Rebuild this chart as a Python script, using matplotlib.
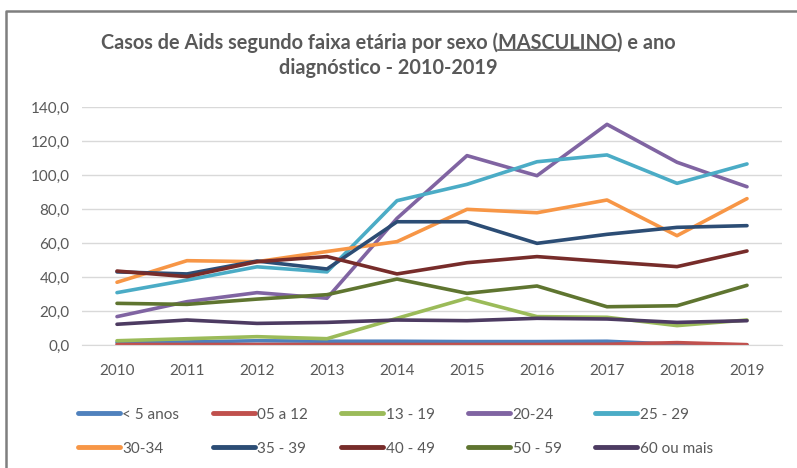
import matplotlib
matplotlib.use('Agg')
import matplotlib.pyplot as plt
from matplotlib.lines import Line2D

# Data
anos = ['2010', '2011', '2012', '2013', '2014', '2015', '2016', '2017', '2018', '2019']
faixas = ['< 5 anos', '05 a 12', '13 - 19', '20-24', '25 - 29',
          '30-34', '35 - 39', '40 - 49', '50 - 59', '60 ou mais']

menor5 = [1.5, 1.8, 2.5, 2.2, 2.2, 2.0, 2.0, 2.2, 0.4, 0.0]
de05a12 = [0.3, 0.3, 0.3, 0.3, 0.3, 0.3, 0.3, 0.4, 1.4, 0.2]
de13a19 = [2.5, 3.7, 4.9, 3.7, 15.7, 27.5, 16.7, 16.3, 11.4, 14.7]
de20a24 = [16.7, 25.5, 30.8, 27.5, 74.5, 111.4, 99.6, 129.8, 107.5, 93.1]
de25a29 = [30.8, 38.2, 46.0, 43.0, 84.9, 94.5, 107.8, 111.8, 95.1, 106.5]
de30a34 = [36.9, 49.6, 49.0, 55.0, 60.8, 79.8, 77.8, 85.3, 64.3, 86.1]
de35a39 = [43.0, 41.8, 49.4, 44.7, 72.5, 72.5, 59.8, 65.1, 69.2, 70.2]
de40a49 = [43.5, 40.2, 49.0, 52.0, 41.8, 48.4, 52.0, 49.0, 46.1, 55.3]
de50a59 = [24.5, 23.9, 27.0, 29.6, 38.8, 30.4, 34.7, 22.5, 23.1, 35.1]
mais60 = [12.2, 14.7, 12.7, 13.3, 14.7, 14.3, 15.7, 15.3, 13.3, 14.3]

series = [menor5, de05a12, de13a19, de20a24, de25a29,
          de30a34, de35a39, de40a49, de50a59, mais60]
cores = ['#4F81BD', '#C0504D', '#9BBB59', '#8064A2', '#4BACC6',
         '#F79646', '#2C4D75', '#772C2A', '#5F7530', '#4D3B62']

fonte = ['Lato', 'DejaVu Sans']
cinza = '#595959'
plt.rcParams['font.family'] = fonte

fig = plt.figure(figsize=(7.97, 4.68), dpi=100)
ax = fig.add_axes([82/797, 1-345/468, 700/797, 238/468])

x = list(range(len(anos)))
linhas = []
for vals, cor, nome in zip(series, cores, faixas):
    l, = ax.plot(x, vals, color=cor, lw=2.6, label=nome, solid_capstyle='round')
    linhas.append(l)

ax.set_xlim(-0.5, 9.5)
ax.set_ylim(0, 140)
ax.set_yticks(range(0, 141, 20))
ax.set_yticklabels([f'{v},0' for v in range(0, 141, 20)])
ax.set_xticks(x)
ax.set_xticklabels(anos)
ax.tick_params(length=0, colors=cinza, labelsize=11, pad=9)
ax.tick_params(axis='x', pad=14)
ax.grid(axis='y', color='#d9d9d9', lw=1)
ax.set_axisbelow(True)
for s in ['top', 'right', 'left']:
    ax.spines[s].set_visible(False)
ax.spines['bottom'].set_color('#d9d9d9')

# legenda preenchida por linha (2 linhas x 5 colunas)
ordem = [0, 5, 1, 6, 2, 7, 3, 8, 4, 9]
leg = fig.legend([linhas[i] for i in ordem], [faixas[i] for i in ordem],
                 loc='upper left', bbox_to_anchor=(64/797, 1-394/468), ncol=5,
                 frameon=False, fontsize=11, handlelength=2.75, handletextpad=0.15,
                 columnspacing=2.2, labelspacing=1.3, labelcolor=cinza)
for h in leg.get_lines():
    h.set_linewidth(3.5)

# titulo com MASCULINO sublinhado
t1a = 'Casos de Aids segundo faixa etária por sexo ('
t1b = 'MASCULINO'
t1c = ') e ano'
props = dict(fontsize=14.3, fontweight='bold', color=cinza)
ttl = fig.text(388/797, 1-43/468, t1a + t1b + t1c, ha='center', va='center', **props)
fig.text(388/797, 1-68/468, 'diagnóstico - 2010-2019', ha='center', va='center', **props)

fig.canvas.draw()
r = fig.canvas.get_renderer()
bb = ttl.get_window_extent(r)
tmp = fig.text(0, 0, t1a, **props)
wa = tmp.get_window_extent(r).width
tmp.set_text(t1a + t1b)
wab = tmp.get_window_extent(r).width
tmp.remove()
W, H = fig.bbox.width, fig.bbox.height
yu = (bb.y0 + 3) / H
fig.add_artist(Line2D([(bb.x0 + wa) / W, (bb.x0 + wab) / W], [yu, yu],
                      color=cinza, lw=1.2, transform=fig.transFigure))

# moldura (so topo e lado esquerdo visiveis)
fig.add_artist(Line2D([6/797, 6/797, 1], [0, 1-11/468, 1-11/468],
                      color='#7f7f7f', lw=1.8, transform=fig.transFigure))

fig.savefig('out.png', dpi=100)
